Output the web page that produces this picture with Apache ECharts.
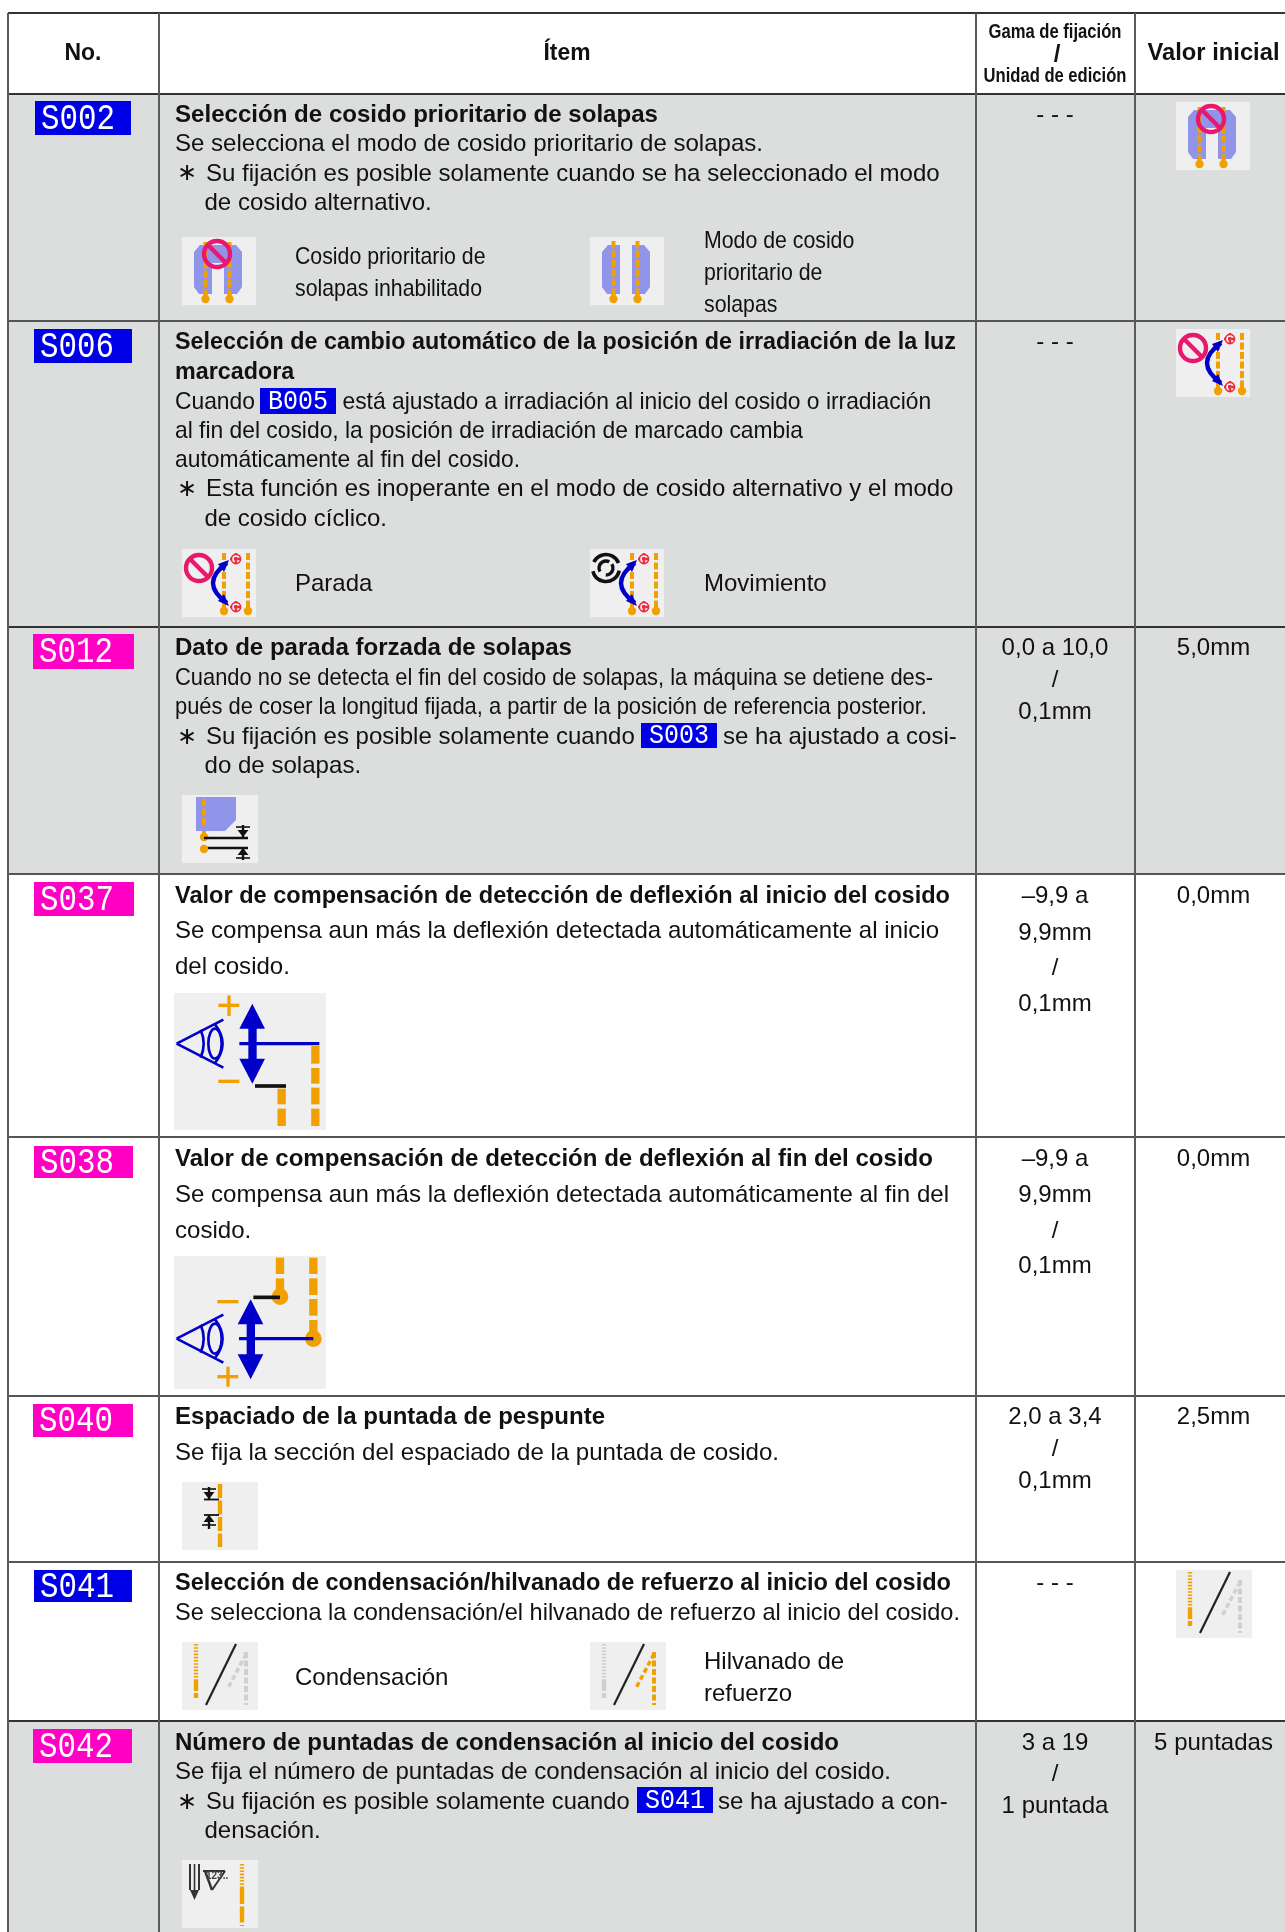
<!DOCTYPE html>
<html><head><meta charset="utf-8">
<style>html,body{margin:0;padding:0;background:#fff}#c{width:1285px;height:1932px}</style>
<script src="https://cdn.jsdelivr.net/npm/echarts@6/dist/echarts.min.js"></script>
</head><body><div id="c"></div>
<script>
// ---- content ----
var headers = ['No.', 'Ítem', 'Valor inicial'];
var headerRange = ['Gama de fijación', '/', 'Unidad de edición'];
var rowCodes = ['S002','S006','S012','S037','S038','S040','S041','S042'];
var rowTitles = [
 ['Selección de cosido prioritario de solapas'],
 ['Selección de cambio automático de la posición de irradiación de la luz','marcadora'],
 ['Dato de parada forzada de solapas'],
 ['Valor de compensación de detección de deflexión al inicio del cosido'],
 ['Valor de compensación de detección de deflexión al fin del cosido'],
 ['Espaciado de la puntada de pespunte'],
 ['Selección de condensación/hilvanado de refuerzo al inicio del cosido'],
 ['Número de puntadas de condensación al inicio del cosido']];
var rowBodies = [
 ['Se selecciona el modo de cosido prioritario de solapas.','Su fijación es posible solamente cuando se ha seleccionado el modo','de cosido alternativo.'],
 ['Cuando','está ajustado a irradiación al inicio del cosido o irradiación','al fin del cosido, la posición de irradiación de marcado cambia','automáticamente al fin del cosido.','Esta función es inoperante en el modo de cosido alternativo y el modo','de cosido cíclico.'],
 ['Cuando no se detecta el fin del cosido de solapas, la máquina se detiene des-','pués de coser la longitud fijada, a partir de la posición de referencia posterior.','Su fijación es posible solamente cuando','se ha ajustado a cosi-','do de solapas.'],
 ['Se compensa aun más la deflexión detectada automáticamente al inicio','del cosido.'],
 ['Se compensa aun más la deflexión detectada automáticamente al fin del','cosido.'],
 ['Se fija la sección del espaciado de la puntada de cosido.'],
 ['Se selecciona la condensación/el hilvanado de refuerzo al inicio del cosido.'],
 ['Se fija el número de puntadas de condensación al inicio del cosido.','Su fijación es posible solamente cuando','se ha ajustado a con-','densación.']];
var rangeTexts = [['- - -'],['- - -'],['0,0 a 10,0','/','0,1mm'],['–9,9 a','9,9mm','/','0,1mm'],['–9,9 a','9,9mm','/','0,1mm'],['2,0 a 3,4','/','0,1mm'],['- - -'],['3 a 19','/','1 puntada']];
var initialTexts = ['', '', '5,0mm', '0,0mm', '0,0mm', '2,5mm', '', '5 puntadas'];
var optionLabels = [
 ['Cosido prioritario de','solapas inhabilitado'],['Modo de cosido','prioritario de','solapas'],
 ['Parada'],['Movimiento'],['Condensación'],['Hilvanado de','refuerzo']];
var inlineCodes = ['B005','S003','S041'];

// ---- layout ----
var F = '"Liberation Sans",Helvetica,Arial,sans-serif';
var colLines = [8,159,976,1135];
var rowLines = [13,94,321,627,874,1137,1396,1562,1721,1940];
var rowShaded = [1,1,1,0,0,0,0,1];
var badgeBoxes = [[35,101,96,34],[34,329,98,34],[33,634,101,35],[34,882,100,34],[34,1146,99,32],[33,1404,100,33],[34,1570,98,32],[33,1729,99,34]];
var badgeColor = [0,0,1,1,1,1,0,1];
var titleY = [[114],[341,371],[647],[895],[1158],[1416],[1582],[1742]];
var titleW = [[483],[781,0],[397],[775],[758],[430],[776],[664]];
var bodyRef = [[0,588],[2,628],[0,758],[0,764],[0,774],[0,604],[0,785],[0,716]];
// per body line: [x, y, width multiplier]
var bodyPos = [
 [[175,143,1],[206,172.5,1],[204.5,202,1]],
 [[175,400.5,1],[342.5,400.5,1],[175,430,1],[175,458.5,1],[206,488,1.052],[204.5,517.5,1.05]],
 [[175,677,1],[175,706,1],[206,736,1.098],[723,736,1.098],[204.5,765,1.1]],
 [[175,930,1],[175,966,1]],
 [[175,1194,1],[175,1230,1]],
 [[175,1452,1]],
 [[175,1612,1]],
 [[175,1771,1],[206,1801,0.988],[718,1801,1],[204.5,1830,1]]];
var asteriskPos = [[187,172.5],[187,488],[187,736],[187,1801]];
var rangeY = [[114],[341],[647,679,711],[895,932,967,1003],[1158,1194,1230,1265],[1416,1448,1480],[1582],[1742,1773,1805]];
var inlineBoxes = [[260,388,76,26],[641,723,76,25],[637,1787,76,26]];
var labelPos = [[[295,256],[295,288]],[[704,240],[704,272],[704,304]],[[295,583]],[[704,583]],[[295,1677]],[[704,1661],[704,1693]]];
var labelWidthScale = [0.887,0.887,1,1,1,1];
var iconPos = {
 flapNoInit:[1176,102], flapNo:[182,237], flapYes:[590,237],
 stopInit:[1176,329], stop:[182,549], move:[590,549],
 force:[182,795], startComp:[174,993], endComp:[174,1256], pitch:[182,1482],
 condInit:[1176,1570], cond:[182,1642], back:[590,1642], count:[182,1860]};

// ---- helpers ----
var ctx = document.createElement('canvas').getContext('2d');
function measure(t, font){ ctx.font = font; return ctx.measureText(t).width; }
var BLUE='#0000c8', ORANGE='#f0a000', PERI='#9095ea', PINK='#e8186e', RED='#f0283c', BLACK='#111', GRAY='#cfcfcf';
function rect(x,y,w,h,fill){return {type:'rect',shape:{x:x,y:y,width:w,height:h},style:{fill:fill}};}
function line(a,b,c,d,col,w,dash){return {type:'line',shape:{x1:a,y1:b,x2:c,y2:d},style:{stroke:col,lineWidth:w,lineDash:dash||null,fill:null}};}
function poly(p,fill){return {type:'polygon',shape:{points:p},style:{fill:fill}};}
function circ(x,y,r,fill,stroke,sw){return {type:'circle',shape:{cx:x,cy:y,r:r},style:{fill:fill||null,stroke:stroke||null,lineWidth:sw||0}};}
function ell(x,y,a,b,stroke,sw){return {type:'ellipse',shape:{cx:x,cy:y,rx:a,ry:b},style:{fill:null,stroke:stroke,lineWidth:sw}};}
function curve(a,b,c,d,e,f,col,w){return {type:'bezierCurve',shape:{x1:a,y1:b,cpx1:c,cpy1:d,x2:e,y2:f},style:{stroke:col,lineWidth:w,fill:null}};}
function arc(x,y,r,s,e,col,w){return {type:'arc',shape:{cx:x,cy:y,r:r,startAngle:s,endAngle:e,clockwise:true},style:{stroke:col,lineWidth:w,fill:null}};}
function grp(x,y,s,children){return {type:'group',x:x,y:y,scaleX:s,scaleY:s,children:children};}
function frame(w,h){return rect(0,0,w,h,'#efefef');}
function stitch(x,y1,y2,w,col,dash){return line(x,y1,x,y2,col||ORANGE,w||4,dash||[7,2.5]);}
function endDot(x,y){return [line(x,y-6,x,y,ORANGE,4), circ(x,y,4.2,ORANGE)];}
function ring(x,y){return [circ(x,y,13,null,PINK,4.4), line(x-9,y-9,x+9,y+9,PINK,4.4)];}
function smallArrow(x,y1,y2,up){
  var tip = up ? y1 : y2, base = up ? tip+7 : tip-7;
  return [line(x,y1,x,y2,BLACK,2.4), poly([[x,tip],[x-5.5,base],[x+5.5,base]],BLACK), line(x-7,base+(up?3:-3),x+7,base+(up?3:-3),BLACK,1.6)];
}

function iconFlapNo(){
  return [frame(74,68), poly([[12,15],[18,8],[54,8],[60,15],[60,50],[55,57],[42,57],[42,26],[30,26],[30,57],[17,57],[12,50]],PERI),
   stitch(23.5,5,58), stitch(47.5,5,58)].concat(endDot(23.5,62),endDot(47.5,62),ring(35,17));
}
function iconFlapYes(){
  return [frame(74,68), poly([[12,15],[18,8],[30,8],[30,57],[17,57],[12,50]],PERI), poly([[42,8],[54,8],[60,15],[60,50],[55,57],[42,57]],PERI),
   stitch(23.5,4,58), stitch(47.5,4,58)].concat(endDot(23.5,62),endDot(47.5,62));
}
function redDot(x,y){return [circ(x,y,2,RED), line(x-6,y,x+6,y,RED,2.4,[2,2]), line(x,y-6,x,y+6,RED,2.4,[2,2]), circ(x,y,4.6,null,RED,1.6)];}
function markerBase(){
  var o=[frame(74,68), stitch(42,4,58), stitch(66,4,58)];
  o=o.concat(endDot(42,62),endDot(66,62),redDot(54,10),redDot(54,58));
  o.push(curve(45,14,17,34,45,54,BLUE,4.4));
  o.push(poly([[47,11],[36,15],[42,23]],BLUE), poly([[47,57],[36,52],[42,45]],BLUE));
  return o;
}
function iconStop(){ return markerBase().concat(ring(17,19)); }
function iconMove(){
  var c=[16,19], o=markerBase();
  o.push(arc(c[0],c[1],13.5,3.6,5.9,BLACK,3.6), arc(c[0],c[1],13.5,0.2,2.9,BLACK,3.6),
         arc(c[0],c[1],7,2.6,5.2,BLACK,3.4), arc(c[0],c[1],7,5.7,1.6,BLACK,3.4));
  return o;
}
function iconForce(){
  return [frame(76,68), poly([[14,2],[54,2],[54,25],[43,36],[14,36]],PERI), stitch(22,4,32)]
   .concat(endDot(22,42)).concat([line(22,43,66,43,BLACK,2.4), line(22,53,66,53,BLACK,2.4), circ(22,54,4.2,ORANGE)],
   smallArrow(61,30,42,false), smallArrow(61,53,65,true));
}
function eye(dy){
  return [line(50,190+dy,190,118+dy,BLUE,8), line(50,190+dy,190,262+dy,BLUE,8),
    ell(165,190+dy,20,45,BLUE,8), curve(122,148+dy,140,190+dy,122,232+dy,BLUE,8), curve(165,132+dy,210,190+dy,165,248+dy,BLUE,8)];
}
function dblArrow(cx,t){
  var h=[cx-39,cx+38], s=[cx-12,cx+13];
  return poly([[cx,t],[h[1],t+75],[s[1],t+75],[s[1],t+165],[h[1],t+165],[cx,t+240],[h[0],t+165],[s[0],t+165],[s[0],t+75],[h[0],t+75]],BLUE);
}
function barsOf(x,w,spans){ return spans.map(function(s){return rect(x-w/2,s[0],w,s[1]-s[0],ORANGE);}); }
function iconStartComp(){
  var ch=[line(238,190,478,190,BLUE,10), dblArrow(277,70), line(285,317,378,317,BLACK,11)]
   .concat(eye(0), barsOf(365,25,[[325,372],[385,437]]), barsOf(466,25,[[197,250],[263,310],[322,372],[385,437]]),
   [rect(175,70,63,10,ORANGE), rect(202,45,10,62,ORANGE), rect(175,298,63,10,ORANGE)]);
  return [frame(152,137), grp(-14,-12.67,1/3,ch)];
}
function iconEndComp(){
  var ch=[].concat(barsOf(360,25,[[833,882],[895,935]]), barsOf(460,25,[[833,882],[895,945],[957,1007],[1020,1075]]),
   [circ(360,950,25,ORANGE), circ(460,1076,25,ORANGE), line(280,952,360,952,BLACK,11), line(237,1076,460,1076,BLUE,10), dblArrow(272,958)],
   eye(886), [rect(172,960,63,10,ORANGE), rect(172,1185,63,10,ORANGE), rect(199,1160,10,60,ORANGE)]);
  return [frame(152,133), grp(-14,-276,1/3,ch)];
}
function iconPitch(){
  return [frame(76,68), stitch(38,2,65,4.4,ORANGE,[14,2.5]), line(22,17.5,37,17.5,BLACK,1.8), line(22,33,37,33,BLACK,1.8)]
   .concat(smallArrow(27,5,17,false), smallArrow(27,33,47,true));
}
function iconCond(left,right){
  return [frame(76,68), line(14,2,14,38,left,4.4,[1.6,1.6]), line(14,38,14,56,left,4.4,[11,2]),
    line(54,2,24,63,'#222',2.2),
    line(64,10,64,63,right,4,[6,2.5]), line(64,12,46,46,right,3.5,[5,3])];
}
function iconCount(){
  return [frame(76,68), line(60,4,60,28,ORANGE,4.4,[1.6,1.6]), line(60,28,60,66,ORANGE,4.4,[16,2.5]),
    line(8,4,8,30,'#333',2), line(17,4,17,30,'#333',2), line(12.5,4,12.5,34,'#333',1.6), poly([[8,30],[17,30],[12.5,40]],'#333'),
    line(21,11,43,11,'#333',2), line(23,11,30,30,'#333',2.4), line(43,11,30,30,'#333',2),
    {type:'text',x:24,y:16,style:{text:'123..',fill:'#444',font:'bold 10px '+F,align:'left',verticalAlign:'middle'}}];
}
var iconBuilders = {
 flapNoInit:iconFlapNo, flapNo:iconFlapNo, flapYes:iconFlapYes, stopInit:iconStop, stop:iconStop, move:iconMove,
 force:iconForce, startComp:iconStartComp, endComp:iconEndComp, pitch:iconPitch,
 condInit:function(){return iconCond(ORANGE,GRAY);}, cond:function(){return iconCond(ORANGE,GRAY);},
 back:function(){return iconCond(GRAY,ORANGE);}, count:iconCount};

// ---- item list ----
var items = [];
var TEXT_DY = 1.5;
function addText(t,x,y,font,opt){
  opt=opt||{};
  var s = opt.w ? opt.w/measure(t,font) : (opt.s||1);
  items.push({x:x,y:y+TEXT_DY,build:function(p){return {type:'text',x:p[0],y:p[1],scaleX:s,
    style:{text:t,fill:opt.fill||'#111',font:font,align:opt.align||'left',verticalAlign:'middle',
      stroke:opt.stroke||null,lineWidth:opt.stroke?1:0}};}});
}
function addRect(x0,y0,x1,y1,fill){
  items.push({x:x0,y:y0,x2:x1,y2:y1,build:function(p,q){return {type:'rect',shape:{x:p[0],y:p[1],width:q[0]-p[0],height:q[1]-p[1]},style:{fill:fill}};}});
}
function addLine(x0,y0,x1,y1,col,w){
  items.push({x:x0,y:y0,x2:x1,y2:y1,build:function(p,q){return {type:'line',shape:{x1:p[0],y1:p[1],x2:q[0],y2:q[1]},style:{stroke:col,lineWidth:w}};}});
}
function addIcon(k){
  var pos=iconPos[k];
  items.push({x:pos[0],y:pos[1],build:function(p){return {type:'group',x:p[0],y:p[1],children:iconBuilders[k]()};}});
}
var FB = 'bold 24px '+F, FN='24px '+F;
var BLUEBADGE='#0000e6', PINKBADGE='#ff00c4';
// shading
rowCodes.forEach(function(c,i){ if(rowShaded[i]) addRect(colLines[0],rowLines[i+1],1285,rowLines[i+2],'#dcdddd'); });
// rules
rowLines.slice(0,9).forEach(function(y,i){ addLine(colLines[0],y,1285,y,i%8===0||i===1||i===3?'#333':'#555',2); });
colLines.forEach(function(x){ addLine(x,rowLines[0],x,1932,'#5a5a5a',2); });
// header
addText(headers[0],83,52,FB,{align:'center',w:37});
addText(headers[1],567,52,FB,{align:'center',w:47});
addText(headers[2],1213.5,52,FB,{align:'center',w:132});
addText(headerRange[0],1055,31,'bold 20px '+F,{align:'center',w:133});
addText(headerRange[1],1057,54,'bold 24px '+F,{align:'center'});
addText(headerRange[2],1055,75,'bold 20px '+F,{align:'center',w:143});
// rows
rowCodes.forEach(function(code,i){
  var b=badgeBoxes[i], col=badgeColor[i]?PINKBADGE:BLUEBADGE;
  addRect(b[0],b[1],b[0]+b[2],b[1]+b[3],col);
  addText(code,b[0]+6,b[1]+b[3]/2-0.5,'37px "Liberation Mono",monospace',{w:74,fill:'#fff',stroke:col});
  rowTitles[i].forEach(function(t,j){
    var ref=rowTitles[i][0];
    addText(t,175,titleY[i][j],FB,{s:titleW[i][0]/measure(ref,FB)});
  });
  var s=bodyRef[i][1]/measure(rowBodies[i][bodyRef[i][0]],FN);
  rowBodies[i].forEach(function(t,j){ addText(t,bodyPos[i][j][0],bodyPos[i][j][1],FN,{s:s*bodyPos[i][j][2]}); });
  rangeTexts[i].forEach(function(t,j){ addText(t,1055,rangeY[i][j],FN,{align:'center'}); });
  if(initialTexts[i]) addText(initialTexts[i],1213.5,rangeY[i][0],FN,{align:'center'});
});
asteriskPos.forEach(function(a){ addText('\u2217',a[0],a[1],'24px "DejaVu Sans",sans-serif',{align:'center'}); });
inlineCodes.forEach(function(code,i){
  var b=inlineBoxes[i];
  addRect(b[0],b[1],b[0]+b[2],b[1]+b[3],BLUEBADGE);
  addText(code,b[0]+8,b[1]+b[3]/2-1,'28px "Liberation Mono",monospace',{w:60,fill:'#fff',stroke:BLUEBADGE});
});
optionLabels.forEach(function(ls,i){ ls.forEach(function(t,j){
  addText(t,labelPos[i][j][0],labelPos[i][j][1],FN,{s:labelWidthScale[i]});
});});
Object.keys(iconPos).forEach(addIcon);

// ---- chart ----
var chart = echarts.init(document.getElementById('c'),null,{renderer:'canvas'});
chart.setOption({
  animation:false,
  backgroundColor:'#fff',
  grid:{left:0,right:0,top:0,bottom:0},
  xAxis:{type:'value',min:0,max:1285,show:false},
  yAxis:{type:'value',min:0,max:1932,inverse:true,show:false},
  series:[{type:'custom',coordinateSystem:'cartesian2d',silent:true,clip:false,
    data:items.map(function(it,i){return [it.x,it.y,i];}),
    encode:{x:0,y:1},
    renderItem:function(params,api){
      var it=items[api.value(2)];
      var p=api.coord([it.x,it.y]);
      var q=it.x2!==undefined?api.coord([it.x2,it.y2]):null;
      return it.build(p,q);
    }}]
});
</script></body></html>
